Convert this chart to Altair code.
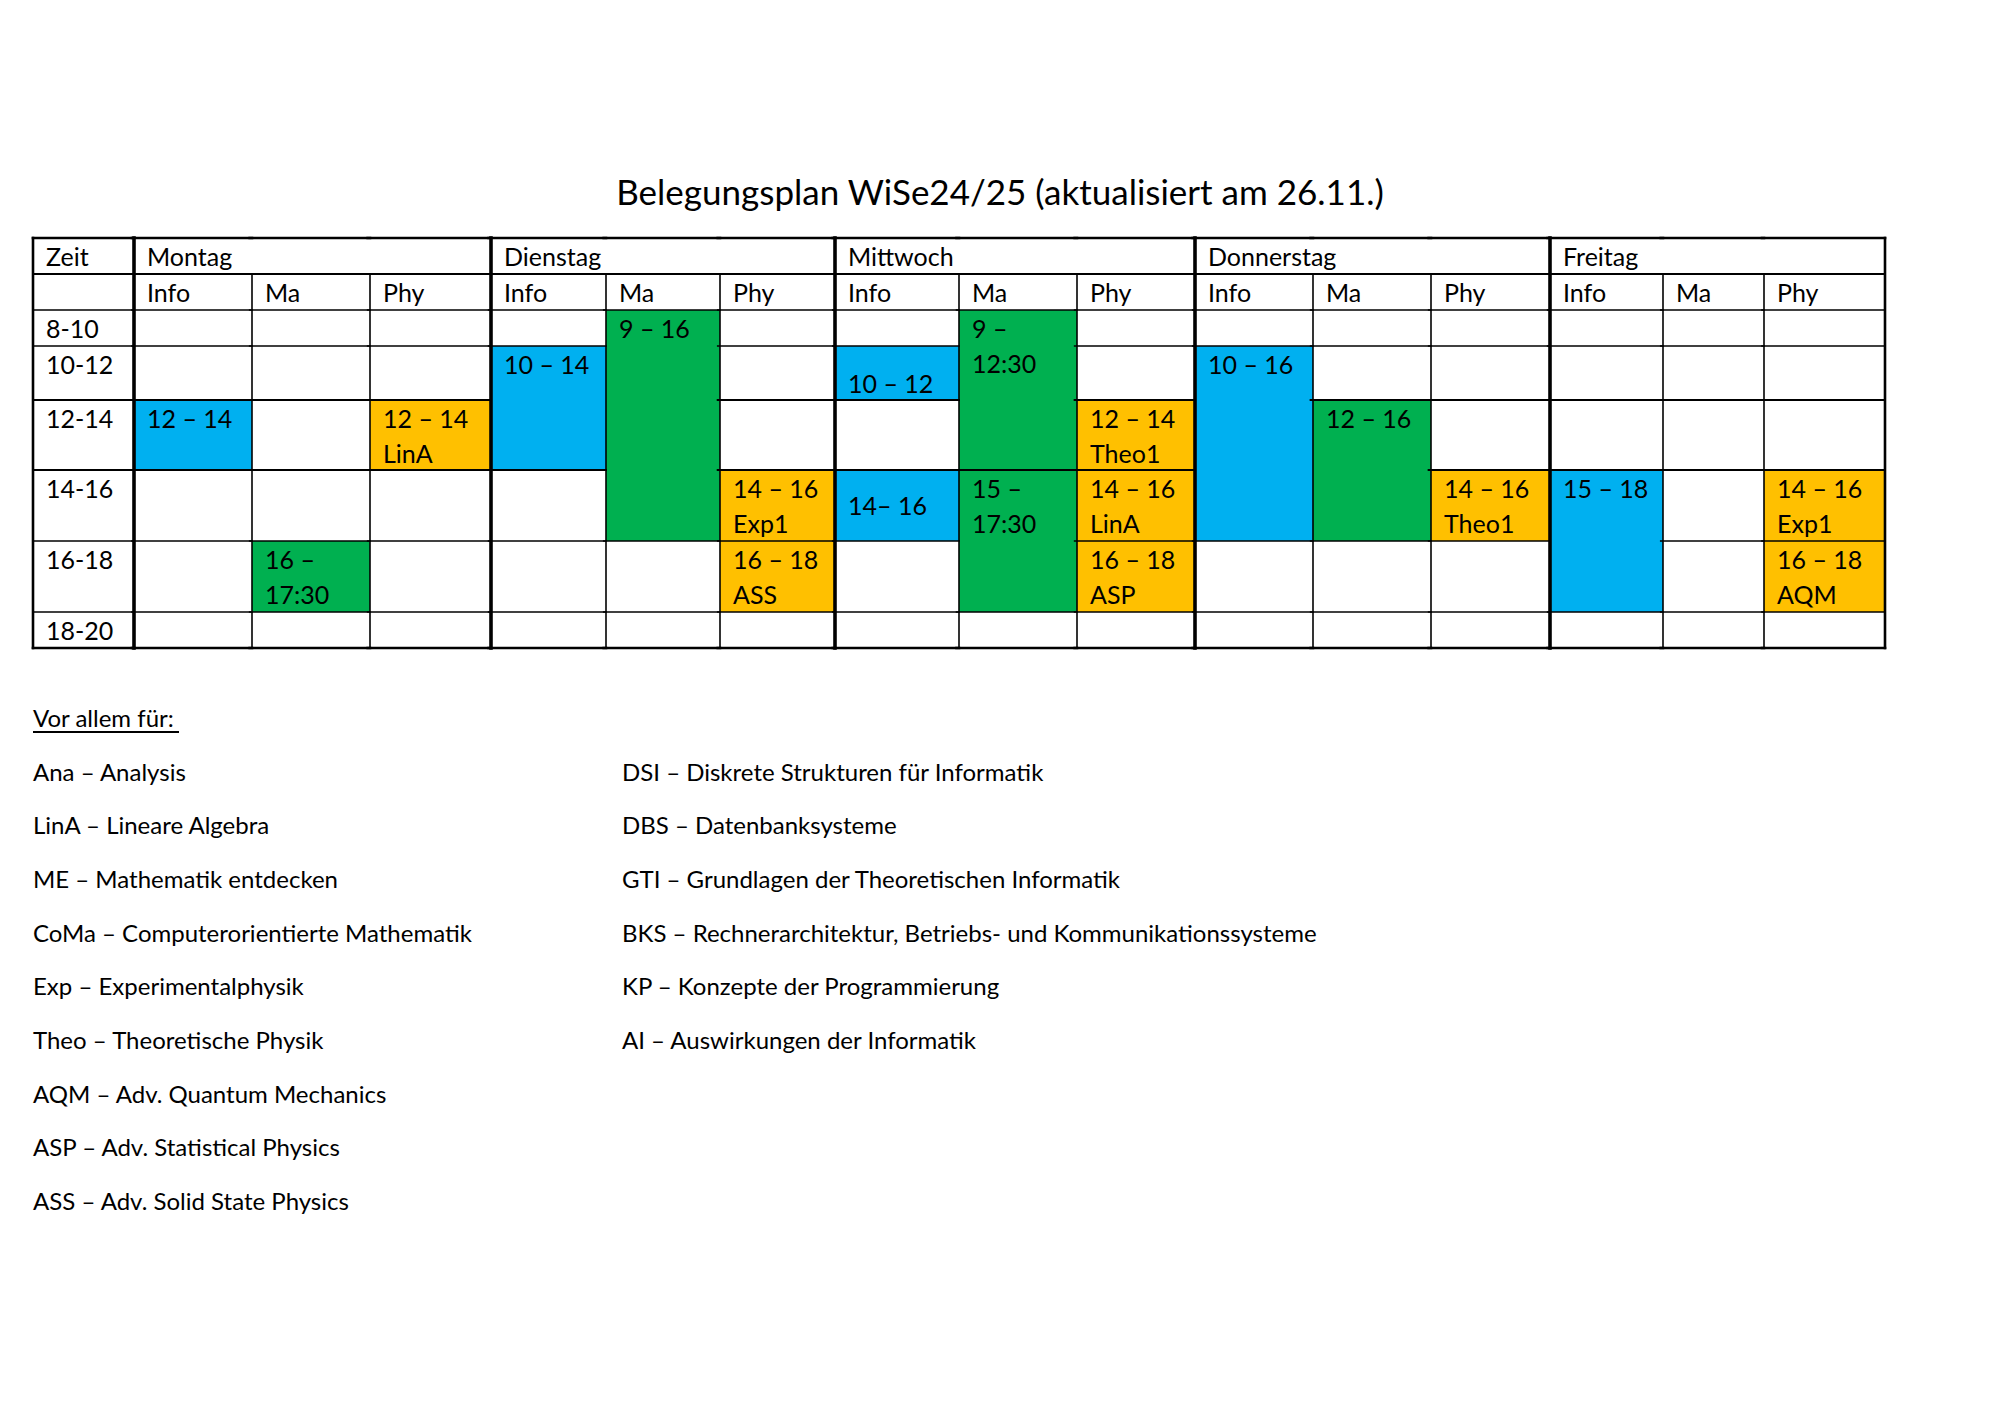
import altair as alt
import pandas as pd

# ---------------- data ----------------
TITLE = "Belegungsplan WiSe24/25 (aktualisiert am 26.11.)"
DAYS = ["Montag", "Dienstag", "Mittwoch", "Donnerstag", "Freitag"]
SUBJECTS = ["Info", "Ma", "Phy"]
SLOTS = ["8-10", "10-12", "12-14", "14-16", "16-18", "18-20"]
TIME_HEADER = "Zeit"

# booked blocks
block_day = ["Montag", "Montag", "Montag",
             "Dienstag", "Dienstag", "Dienstag", "Dienstag",
             "Mittwoch", "Mittwoch", "Mittwoch", "Mittwoch", "Mittwoch", "Mittwoch", "Mittwoch",
             "Donnerstag", "Donnerstag", "Donnerstag",
             "Freitag", "Freitag", "Freitag"]
block_subject = ["Info", "Ma", "Phy",
                 "Info", "Ma", "Phy", "Phy",
                 "Info", "Info", "Ma", "Ma", "Phy", "Phy", "Phy",
                 "Info", "Ma", "Phy",
                 "Info", "Phy", "Phy"]
block_first = ["12-14", "16-18", "12-14",
               "10-12", "8-10", "14-16", "16-18",
               "10-12", "14-16", "8-10", "14-16", "12-14", "14-16", "16-18",
               "10-12", "12-14", "14-16",
               "14-16", "14-16", "16-18"]
block_last = ["12-14", "16-18", "12-14",
              "12-14", "14-16", "14-16", "16-18",
              "10-12", "14-16", "12-14", "16-18", "12-14", "14-16", "16-18",
              "14-16", "14-16", "14-16",
              "16-18", "14-16", "16-18"]
block_line1 = ["12 – 14", "16 –", "12 – 14",
               "10 – 14", "9 – 16", "14 – 16", "16 – 18",
               "10 – 12", "14– 16", "9 –", "15 –", "12 – 14", "14 – 16", "16 – 18",
               "10 – 16", "12 – 16", "14 – 16",
               "15 – 18", "14 – 16", "16 – 18"]
block_line2 = ["", "17:30", "LinA",
               "", "", "Exp1", "ASS",
               "", "", "12:30", "17:30", "Theo1", "LinA", "ASP",
               "", "", "Theo1",
               "", "Exp1", "AQM"]
block_valign = ["top", "top", "top",
                "top", "top", "top", "top",
                "bottom", "middle", "top", "top", "top", "top", "top",
                "top", "top", "top",
                "top", "top", "top"]

LEGEND_HEADER = "Vor allem für:"
LEGEND_LEFT = ["Ana – Analysis", "LinA – Lineare Algebra", "ME – Mathematik entdecken",
               "CoMa – Computerorientierte Mathematik", "Exp – Experimentalphysik",
               "Theo – Theoretische Physik", "AQM – Adv. Quantum Mechanics",
               "ASP – Adv. Statistical Physics", "ASS – Adv. Solid State Physics"]
LEGEND_RIGHT = ["DSI – Diskrete Strukturen für Informatik", "DBS – Datenbanksysteme",
                "GTI – Grundlagen der Theoretischen Informatik",
                "BKS – Rechnerarchitektur, Betriebs- und Kommunikationssysteme",
                "KP – Konzepte der Programmierung", "AI – Auswirkungen der Informatik"]

# ---------------- layout / style ----------------
W, H = 1984, 1398
OFF = 8
COL_EDGES_PX = [33, 134, 252, 370, 491, 606, 720, 835, 959, 1077, 1195, 1313, 1431, 1550, 1663, 1764, 1885]
ROW_EDGES_PX = [238, 274, 310, 346, 400, 470, 541, 612, 648]
LEG_X_PX = [33, 622]
LEG_Y_PX = [720, 1203]
UNDERLINE_PX = 146
FONT = "Lato"
CELL_FS = 25
LEG_FS = 24
TITLE_FS = 35
COLORS = ["#00B0F0", "#00B050", "#FFC000"]

def col_of(day, subj):
    return 1 + 3 * DAYS.index(day) + SUBJECTS.index(subj)

def row_of(slot):
    return 2 + SLOTS.index(slot)

xs = alt.Scale(domain=list(range(len(COL_EDGES_PX))), range=[p - OFF for p in COL_EDGES_PX], nice=False, zero=False)
ys = alt.Scale(domain=list(range(len(ROW_EDGES_PX))), range=[p - OFF for p in ROW_EDGES_PX], nice=False, zero=False)

# blocks table
blocks = pd.DataFrame({
    "day": block_day, "subject": block_subject,
    "c0": [col_of(d, s) for d, s in zip(block_day, block_subject)],
    "r0": [row_of(a) for a in block_first],
    "r1": [row_of(b) + 1 for b in block_last],
    "l1": block_line1, "l2": block_line2, "valign": block_valign,
})
blocks["c1"] = blocks["c0"] + 1
blocks["rmid"] = (blocks["r0"] + blocks["r1"]) / 2

rects = alt.Chart(blocks).mark_rect().encode(
    x=alt.X("c0:Q", scale=xs, axis=None), x2="c1",
    y=alt.Y("r0:Q", scale=ys, axis=None), y2="r1",
    color=alt.Color("subject:N", scale=alt.Scale(domain=SUBJECTS, range=COLORS), legend=None),
)

tbase = dict(font=FONT, fontSize=CELL_FS, align="left", baseline="middle", dx=13, color="black")

top_l1 = alt.Chart(blocks).transform_filter("datum.valign == 'top'").mark_text(dy=19.5, **tbase).encode(
    x=alt.X("c0:Q", scale=xs, axis=None), y=alt.Y("r0:Q", scale=ys, axis=None), text="l1:N")
top_l2 = alt.Chart(blocks).transform_filter("datum.valign == 'top' && datum.l2 != ''").mark_text(dy=55, **tbase).encode(
    x=alt.X("c0:Q", scale=xs, axis=None), y=alt.Y("r0:Q", scale=ys, axis=None), text="l2:N")
mid_l1 = alt.Chart(blocks).transform_filter("datum.valign == 'middle'").mark_text(dy=1.5, **tbase).encode(
    x=alt.X("c0:Q", scale=xs, axis=None), y=alt.Y("rmid:Q", scale=ys, axis=None), text="l1:N")
bot_l1 = alt.Chart(blocks).transform_filter("datum.valign == 'bottom'").mark_text(dy=-15.5, **tbase).encode(
    x=alt.X("c0:Q", scale=xs, axis=None), y=alt.Y("r1:Q", scale=ys, axis=None), text="l1:N")

# header and time labels
lab_rows = [{"c": 0, "r": 0, "t": TIME_HEADER}]
for i, d in enumerate(DAYS):
    lab_rows.append({"c": 1 + 3 * i, "r": 0, "t": d})
    for j, s in enumerate(SUBJECTS):
        lab_rows.append({"c": 1 + 3 * i + j, "r": 1, "t": s})
for k, s in enumerate(SLOTS):
    lab_rows.append({"c": 0, "r": 2 + k, "t": s})
labels = alt.Chart(pd.DataFrame(lab_rows)).mark_text(dy=19.5, **tbase).encode(
    x=alt.X("c:Q", scale=xs, axis=None), y=alt.Y("r:Q", scale=ys, axis=None), text="t:N")

# grid lines
ncol = len(COL_EDGES_PX) - 1
nrow = len(ROW_EDGES_PX) - 1
segs = []
for k in range(nrow + 1):
    if k in (0, nrow):
        w = 2.6
    elif k in (1, 4, 5):
        w = 2.0
    else:
        w = 1.6
    for c in range(ncol):
        covered = any((b.c0 == c) and (b.r0 < k < b.r1) for b in blocks.itertuples())
        if not covered:
            segs.append({"x0": c - 0.02 if c > 0 else c, "x1": c + 1, "y0": k, "y1": k, "w": w})
thick_v = [1 + 3 * i for i in range(len(DAYS))]
for c in range(ncol + 1):
    if c in (0, ncol):
        segs.append({"x0": c, "x1": c, "y0": 0, "y1": nrow, "w": 2.6})
    elif c in thick_v:
        segs.append({"x0": c, "x1": c, "y0": 0, "y1": nrow, "w": 3.6})
    else:
        segs.append({"x0": c, "x1": c, "y0": 1, "y1": nrow, "w": 1.6})
lines = alt.Chart(pd.DataFrame(segs)).mark_rule(color="black", strokeCap="square").encode(
    x=alt.X("x0:Q", scale=xs, axis=None), x2="x1",
    y=alt.Y("y0:Q", scale=ys, axis=None), y2="y1",
    strokeWidth=alt.StrokeWidth("w:Q", scale=None, legend=None),
)

table = alt.layer(rects, top_l1, top_l2, mid_l1, bot_l1, labels, lines)

# legend
leg_rows = [{"lc": 0, "lr": 0, "t": LEGEND_HEADER}]
leg_rows += [{"lc": 0, "lr": i + 1, "t": t} for i, t in enumerate(LEGEND_LEFT)]
leg_rows += [{"lc": 1, "lr": i + 1, "t": t} for i, t in enumerate(LEGEND_RIGHT)]
lxs = alt.Scale(domain=[0, 1], range=[p - OFF for p in LEG_X_PX], nice=False, zero=False)
lys = alt.Scale(domain=[0, len(LEGEND_LEFT)], range=[p - OFF for p in LEG_Y_PX], nice=False, zero=False)
leg_text = alt.Chart(pd.DataFrame(leg_rows)).mark_text(font=FONT, fontSize=LEG_FS, align="left", baseline="middle", color="black").encode(
    x=alt.X("lc:Q", scale=lxs, axis=None), y=alt.Y("lr:Q", scale=lys, axis=None), text="t:N")
ul = pd.DataFrame({"a": [0], "b": [UNDERLINE_PX / (LEG_X_PX[1] - LEG_X_PX[0])], "r": [0]})
leg_ul = alt.Chart(ul).mark_rule(color="black", strokeWidth=2, yOffset=12).encode(
    x=alt.X("a:Q", scale=lxs, axis=None), x2="b", y=alt.Y("r:Q", scale=lys, axis=None))
legend = alt.layer(leg_text, leg_ul)

title = alt.Chart(pd.DataFrame({"t": [TITLE]})).mark_text(
    font=FONT, fontSize=TITLE_FS, align="center", baseline="middle", color="black"
).encode(x=alt.value(W / 2), y=alt.value(194 - OFF), text="t:N")

chart = alt.layer(table, legend, title).resolve_scale(x="independent", y="independent").properties(
    width=W, height=H, padding=0, autosize=alt.AutoSizeParams(type="none"), background="white"
).configure_view(stroke=None)

chart.save("out.html", embed_options={"renderer": "svg", "actions": False})
